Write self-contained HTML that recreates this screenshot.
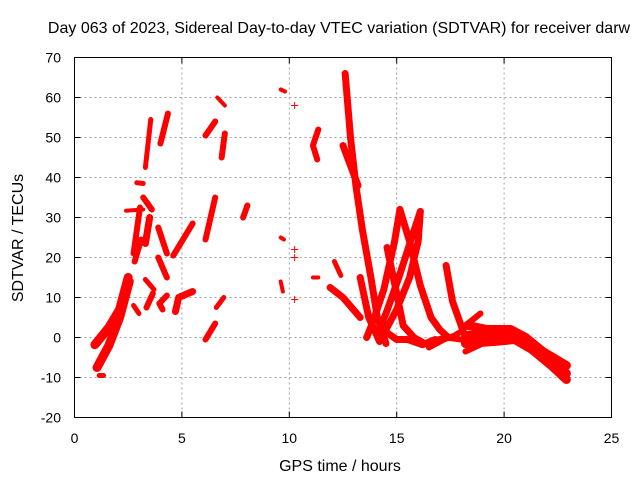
<!DOCTYPE html>
<html><head><meta charset="utf-8"><style>
body{margin:0;background:#fff;}
svg{display:block;font-family:"Liberation Sans",sans-serif;}
</style></head><body>
<svg id="chart" width="640" height="480" viewBox="0 0 640 480" xmlns="http://www.w3.org/2000/svg">
<text x="339" y="33" font-size="16" text-anchor="middle">Day 063 of 2023, Sidereal Day-to-day VTEC variation (SDTVAR) for receiver darw</text>
<g id="grid"></g>
<g id="marks"></g>
<rect x="74.5" y="57.5" width="537" height="360" fill="none" stroke="#000" stroke-width="1"/>
<g id="ticks"></g>
<text x="340" y="471" font-size="16" text-anchor="middle">GPS time / hours</text>
<text transform="translate(23,238) rotate(-90)" font-size="16" text-anchor="middle">SDTVAR / TECUs</text>
</svg>
<script>
const xTicks=[0,5,10,15,20,25];
const yTicks=[-20,-10,0,10,20,30,40,50,60,70];
const trackA=[[0.95,-1.8],[1.6,2.5],[2.1,7],[2.5,15]];
const trackB=[[1.05,-7.5],[1.6,-2],[2.1,5],[2.55,14]];
const trackC=[[1.15,-9.5],[1.35,-9.5]];
const trackD=[[2.8,19],[3.1,24.5]];
const trackE=[[2.75,21],[3.05,32.5]];
const trackF=[[2.4,31.7],[3.2,32]];
const trackG=[[2.9,38.7],[3.2,38.5]];
const trackH=[[3.3,42.5],[3.55,54.5]];
const trackI=[[4.0,48.5],[4.35,56]];
const trackJ=[[3.2,35],[3.6,32]];
const trackK=[[3.3,23.5],[3.5,30]];
const trackL=[[3.9,27.5],[4.3,21]];
const trackM=[[3.9,20],[4.3,15]];
const trackN=[[3.3,14.5],[3.7,12]];
const trackO=[[3.65,11],[3.35,7.5]];
const trackP=[[2.75,8],[3.0,6]];
const trackQ=[[4.3,10.5],[3.95,8.5],[4.1,7]];
const trackR=[[4.6,20.5],[5.5,28.5]];
const trackS=[[4.7,6.5],[4.85,10],[5.5,11.5]];
const trackT=[[6.1,50.5],[6.55,54]];
const trackU=[[6.65,60],[7.0,58]];
const trackV=[[6.85,45],[7.0,51]];
const trackW=[[6.1,24.5],[6.55,35]];
const trackX=[[7.85,30],[8.05,33]];
const trackY=[[6.6,7.5],[6.95,10]];
const trackZ=[[6.1,-0.5],[6.55,3.5]];
const mid1=[[9.6,62],[9.8,61.5]];
const mid2=[[9.6,25],[9.75,24.5]];
const mid3=[[9.6,14],[9.7,11.5]];
const singles=[[10.25,58],[10.25,22],[10.25,20],[10.25,9.5]];
const mid4=[[11.35,52],[11.1,48],[11.3,44.5]];
const mid5=[[11.1,15],[11.35,15]];
const mid6=[[12.1,19],[12.4,15.5]];
const mid7=[[11.9,12.5],[12.5,10],[13.3,5]];
const tall1=[[12.6,66],[12.85,50],[13.1,38],[13.4,27],[13.8,15],[14.1,5],[14.5,-1.5]];
const tall2=[[12.5,48],[13.2,38]];
const tall3=[[13.3,15],[13.7,5],[14.2,-1]];
const arcA=[[15.15,32],[15.6,24],[16.1,13],[16.6,5],[17.0,2],[17.4,0]];
const arcB=[[15.15,32],[14.9,24],[14.4,12],[13.9,4],[13.6,0]];
const arcC=[[16.1,31.5],[15.7,25],[15.1,15],[14.5,6],[14.1,1]];
const arcD=[[16.1,31.5],[16.0,24],[15.6,15],[15.0,7],[14.5,2]];
const arcE=[[14.55,22.5],[15.0,11],[15.3,3],[15.8,0],[16.3,-1.5]];
const floor1=[[14.2,2.5],[15.0,-0.5],[15.5,-0.5],[16.2,-1.8],[16.8,-0.5]];
const right1=[[17.3,18],[17.6,9],[18.0,3],[18.2,0]];
const right2=[[16.5,-2.5],[17.2,-0.5],[17.7,0.5],[18.0,1.5]];
const right3=[[16.5,-1],[17.3,0],[18.0,-0.5]];
const band1=[[18.3,3],[19.2,2],[20.3,2],[21.0,0],[21.8,-3.5],[22.9,-7]];
const band2=[[18.3,0.5],[20.0,0.5],[21.0,-0.5],[22.5,-7.5],[22.9,-9]];
const band3=[[18.2,-1.5],[19.5,-1],[20.5,-0.5],[21.3,-3],[22.2,-7],[22.9,-10.5]];
const band4=[[18.2,3],[18.9,6]];
const band5=[[18.2,-3.5],[19.0,-1.5]];

const X0=74.5,X1=611.5,Y0=417.5,Y1=57.5;
function sx(h){return X0+(h-0)/(25-0)*(X1-X0);}
function sy(v){return Y0-(v+20)/(70+20)*(Y0-Y1);}
const NS="http://www.w3.org/2000/svg";
function mk(tag,attrs,parent){const e=document.createElementNS(NS,tag);for(const k in attrs)e.setAttribute(k,attrs[k]);parent.appendChild(e);return e;}
const grid=document.getElementById('grid'),ticks=document.getElementById('ticks'),marks=document.getElementById('marks');
xTicks.forEach(t=>{const x=sx(t);
 if(t>0&&t<25){const g=mk('line',{x1:x,x2:x,y1:Y1,y2:Y0,stroke:'#a0a0a0','stroke-dasharray':'2,3'},grid);
 
 }
 const a=mk('line',{x1:x,x2:x,y1:Y0,y2:Y0-6,stroke:'#000'},ticks);
 
 
 const b=mk('line',{x1:x,x2:x,y1:Y1,y2:Y1+6,stroke:'#000'},ticks);
 
 
 const l=mk('text',{x:x,y:443,'font-size':14,'text-anchor':'middle'},ticks);l.textContent=t;
 
 });
yTicks.forEach(t=>{const y=sy(t);
 if(t>-20&&t<70){const g=mk('line',{x1:X0,x2:X1,y1:y,y2:y,stroke:'#a0a0a0','stroke-dasharray':'2,3'},grid);
 
 }
 const a=mk('line',{x1:X0,x2:X0+6,y1:y,y2:y,stroke:'#000'},ticks);
 
 
 const b=mk('line',{x1:X1,x2:X1-6,y1:y,y2:y,stroke:'#000'},ticks);
 
 
 const l=mk('text',{x:61,y:y+5,'font-size':14,'text-anchor':'end'},ticks);l.textContent=t;
 
 });
const tracks=[[trackA,9],[trackB,9],[trackC,5],[trackD,6],[trackE,6],[trackF,4],[trackG,5],[trackH,5],[trackI,6],[trackJ,6],[trackK,7],[trackL,6],[trackM,6],[trackN,5],[trackO,6],[trackP,5],[trackQ,6],[trackR,6],[trackS,7],[trackT,6],[trackU,4],[trackV,6],[trackW,6],[trackX,6],[trackY,5],[trackZ,6],[mid1,4],[mid2,4],[mid3,4],[mid4,6],[mid5,4],[mid6,5],[mid7,7],[tall1,7],[tall2,7],[tall3,7],[arcA,7],[arcB,7],[arcC,7],[arcD,7],[arcE,7],[floor1,7],[right1,7],[right2,6],[right3,6],[band1,9],[band2,9],[band3,9],[band4,6],[band5,6]];
tracks.forEach(([pts,w])=>{
 const p=mk('polyline',{points:pts.map(d=>sx(d[0])+','+sy(d[1])).join(' '),fill:'none',stroke:'#f00','stroke-width':w,'stroke-linecap':'round','stroke-linejoin':'round'},marks);
 
 
});
singles.forEach(d=>{const x=sx(d[0]),y=sy(d[1]);
 const p=mk('path',{d:`M${x-3.5},${y}H${x+3.5}M${x},${y-3.5}V${y+3.5}`,stroke:'#f00','stroke-width':1},marks);
 
 });
</script>
</body></html>
